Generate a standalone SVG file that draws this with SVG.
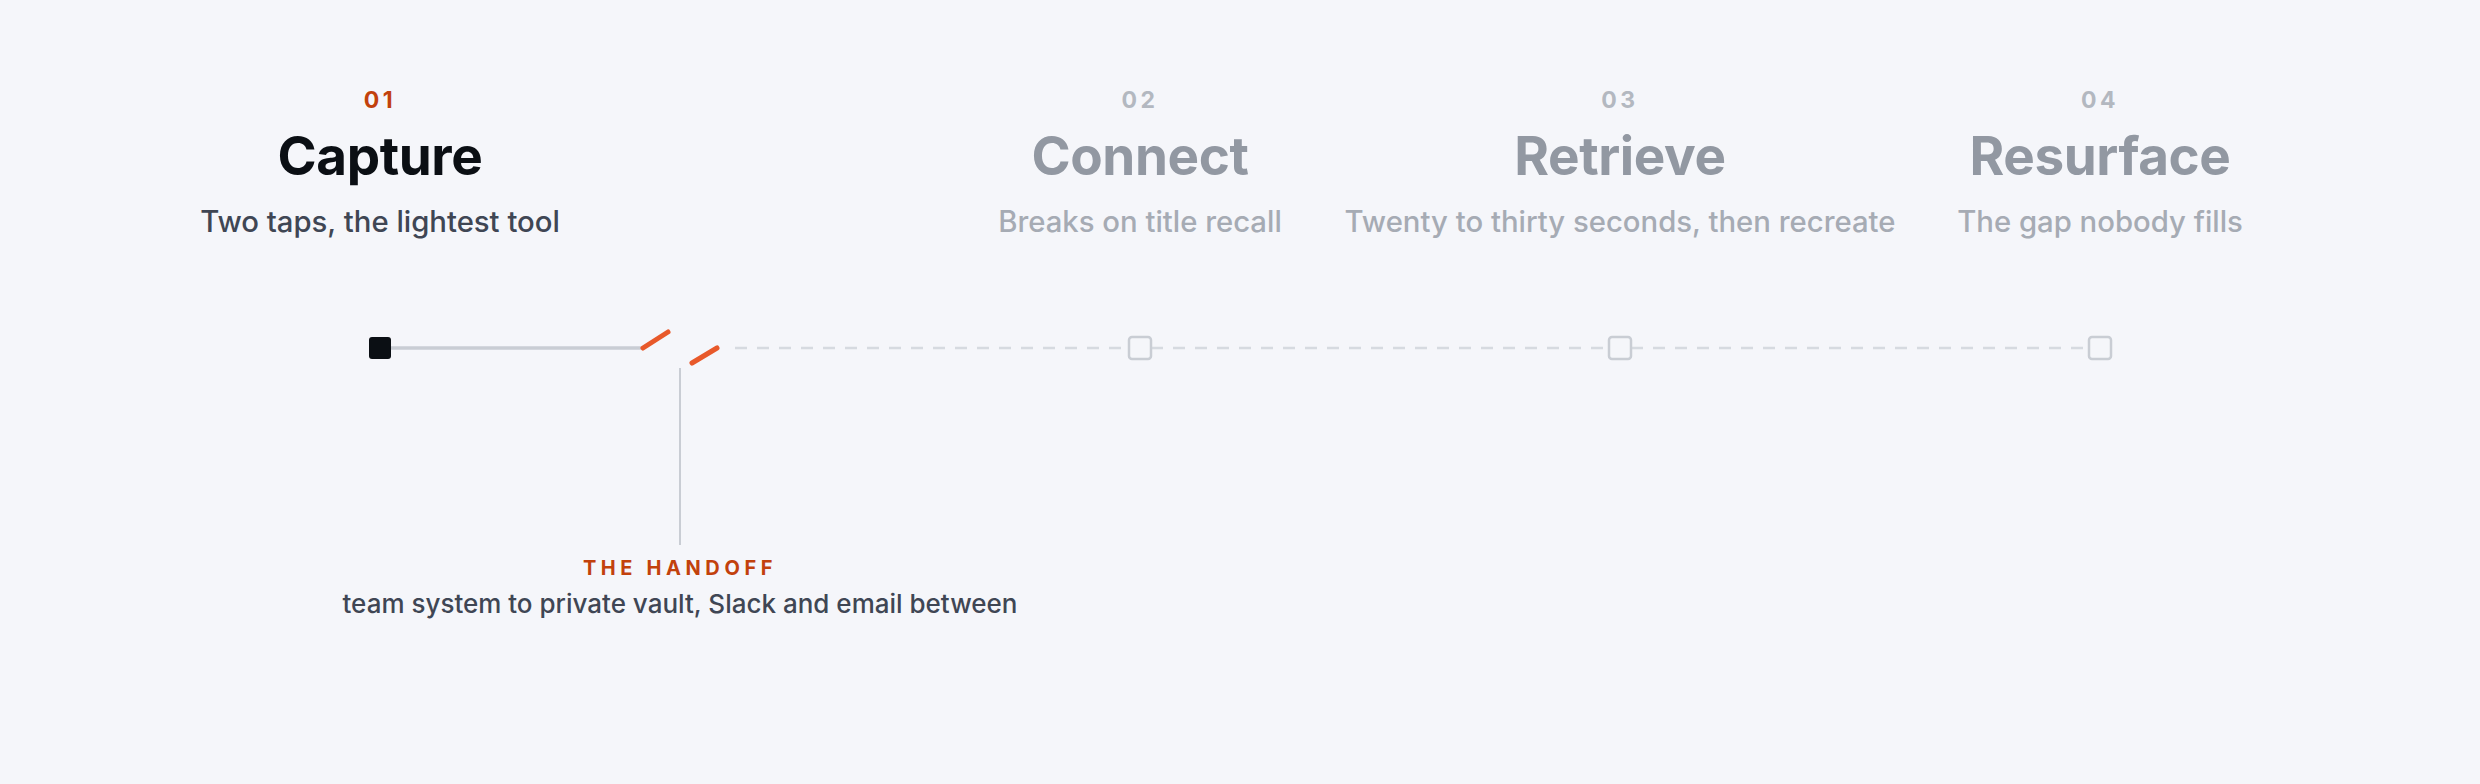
<svg xmlns="http://www.w3.org/2000/svg" width="2480" height="784" viewBox="0 0 2480 784">
<style>
.num{font-family:Inter,"Noto Sans",sans-serif;font-size:23px;font-weight:700;letter-spacing:3.5px;text-anchor:middle}
.title{font-family:Inter,"Noto Sans",sans-serif;font-size:53px;font-weight:700;text-anchor:middle;letter-spacing:-0.4px}
.sub{font-family:Inter,"Noto Sans",sans-serif;font-size:29.3px;font-weight:500;text-anchor:middle}
.active .num{fill:#c2410c}
.active .title{fill:#0b0f14}
.active .sub{fill:#3f4654}
.muted .num{fill:#b3b8c0}
.muted .title{fill:#9298a2}
.muted .sub{fill:#a6abb4}
.node-muted{fill:#f5f6fa;stroke:#c9cdd4;stroke-width:2.5}
.dash{stroke:#d6dae0;stroke-width:2.5;stroke-dasharray:12 10;fill:none}
.slash{stroke:#e8592a;stroke-width:5;stroke-linecap:round}
</style>
<rect width="2480" height="784" fill="#f5f6fa"/>
<g id="connectors">
<line x1="391" y1="348" x2="643" y2="348" stroke="#c9cdd4" stroke-width="3.5"/>
<line class="dash" x1="735" y1="348" x2="1129" y2="348"/>
<line class="dash" x1="1151" y1="348" x2="1609" y2="348"/>
<line class="dash" x1="1631" y1="348" x2="2089" y2="348"/>
<line x1="680" y1="368" x2="680" y2="545" stroke="#c9cdd4" stroke-width="2"/>
</g>
<g id="handoff">
<line class="slash" x1="643" y1="348" x2="668" y2="332"/>
<line class="slash" x1="692" y1="363" x2="717" y2="348"/>
<text x="680" y="575" font-family="Inter,'Noto Sans',sans-serif" font-size="20" font-weight="700" letter-spacing="4.6" fill="#c2410c" text-anchor="middle">THE HANDOFF</text>
<text x="680" y="613" font-family="Inter,'Noto Sans',sans-serif" font-size="26" font-weight="500" fill="#3f4654" text-anchor="middle">team system to private vault, Slack and email between</text>
</g>
<g id="step-capture" class="active">
<text class="num" x="380" y="108">01</text>
<text class="title" x="380" y="175">Capture</text>
<text class="sub" x="380" y="232">Two taps, the lightest tool</text>
<rect x="369" y="337" width="22" height="22" rx="3" fill="#0b0f14"/>
</g>
<g id="step-connect" class="muted">
<text class="num" x="1140" y="108">02</text>
<text class="title" x="1140" y="175">Connect</text>
<text class="sub" x="1140" y="232">Breaks on title recall</text>
<rect class="node-muted" x="1129" y="337" width="22" height="22" rx="3"/>
</g>
<g id="step-retrieve" class="muted">
<text class="num" x="1620" y="108">03</text>
<text class="title" x="1620" y="175">Retrieve</text>
<text class="sub" x="1620" y="232">Twenty to thirty seconds, then recreate</text>
<rect class="node-muted" x="1609" y="337" width="22" height="22" rx="3"/>
</g>
<g id="step-resurface" class="muted">
<text class="num" x="2100" y="108">04</text>
<text class="title" x="2100" y="175">Resurface</text>
<text class="sub" x="2100" y="232">The gap nobody fills</text>
<rect class="node-muted" x="2089" y="337" width="22" height="22" rx="3"/>
</g>
</svg>
